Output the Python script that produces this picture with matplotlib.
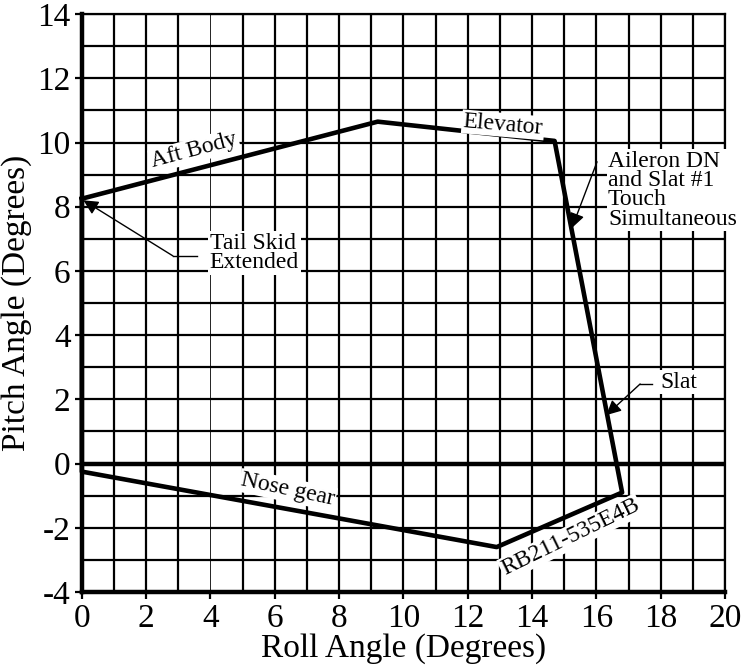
import matplotlib.pyplot as plt

# clearance envelope vertices (roll, pitch)
roll = [0, 9.2, 14.7, 16.8, 12.9, 0, 0]
pitch = [8.25, 10.65, 10.05, -0.9, -2.6, -0.25, 8.25]

x_ticks = list(range(0, 21, 2))
y_ticks = list(range(-4, 15, 2))

plt.rcParams['font.family'] = ['Liberation Serif', 'DejaVu Serif']
plt.rcParams['font.size'] = 24
plt.rcParams['axes.unicode_minus'] = False

fig = plt.figure(figsize=(7.44, 6.71), dpi=100)
ax = fig.add_axes([0.110, 0.1177, 0.8645, 0.8613])

# grid, one line per unit
for gx in range(0, 21):
    ax.axvline(gx, color='black', lw=0.6 if gx == 4 else 1.6, zorder=1)
for gy in range(-4, 15):
    ax.axhline(gy, color='black', lw=1.6, zorder=1)
ax.axhline(0, color='black', lw=3.2, zorder=2)

ax.plot(roll, pitch, color='black', lw=3.3, zorder=4, clip_on=False)

ax.set_xlim(0, 20)
ax.set_ylim(-4, 14)
ax.set_xticks(x_ticks)
ax.set_yticks(y_ticks)
ax.tick_params(direction='out', length=5, width=1.6, pad=3)
for side in ['left', 'bottom']:
    ax.spines[side].set_linewidth(3.2)
for side in ['top', 'right']:
    ax.spines[side].set_linewidth(1.6)

ax.set_xlabel('Roll Angle (Degrees)', labelpad=0)
ax.set_ylabel('Pitch Angle (Degrees)', labelpad=4)

box = dict(facecolor='white', edgecolor='none', pad=1)
fs = 17

# labels along the envelope
ax.text(3.5, 9.75, 'Aft Body', rotation=15, ha='center', va='center', fontsize=fs, bbox=box, zorder=5)
ax.text(13.1, 10.55, 'Elevator', rotation=-5, ha='center', va='center', fontsize=fs, bbox=box, zorder=5)
ax.text(6.4, -0.82, 'Nose gear', rotation=-12, ha='center', va='center', fontsize=fs, bbox=box, zorder=5)
ax.text(15.2, -2.3, 'RB211-535E4B', rotation=26, ha='center', va='center', fontsize=fs, bbox=box, zorder=5)

arrow = dict(arrowstyle='-|>', color='black', lw=1, mutation_scale=22, shrinkA=0, shrinkB=0)

# Tail skid callout
ax.plot([2.83, 3.58], [6.47, 6.47], color='black', lw=1, zorder=5)
ax.annotate('', xy=(0.05, 8.2), xytext=(2.83, 6.47), arrowprops=arrow, zorder=5)
ax.text(3.98, 6.56, 'Tail Skid\nExtended', ha='left', va='center', fontsize=fs,
        linespacing=0.9, bbox=box, zorder=5)

# Aileron callout
ax.annotate('', xy=(15.24, 7.34), xytext=(16.02, 9.4), arrowprops=arrow, zorder=5)
ax.text(16.36, 9.75, 'Aileron DN\nand Slat #1\nTouch\nSimultaneous', ha='left', va='top',
        fontsize=fs, linespacing=0.9, bbox=box, zorder=5)

# Slat callout
ax.plot([17.36, 17.73], [2.48, 2.48], color='black', lw=1, zorder=5)
ax.annotate('', xy=(16.31, 1.51), xytext=(17.36, 2.48), arrowprops=arrow, zorder=5)
ax.text(17.98, 2.54, 'Slat', ha='left', va='center', fontsize=fs, bbox=box, zorder=5)

fig.savefig('out.png', dpi=100)
